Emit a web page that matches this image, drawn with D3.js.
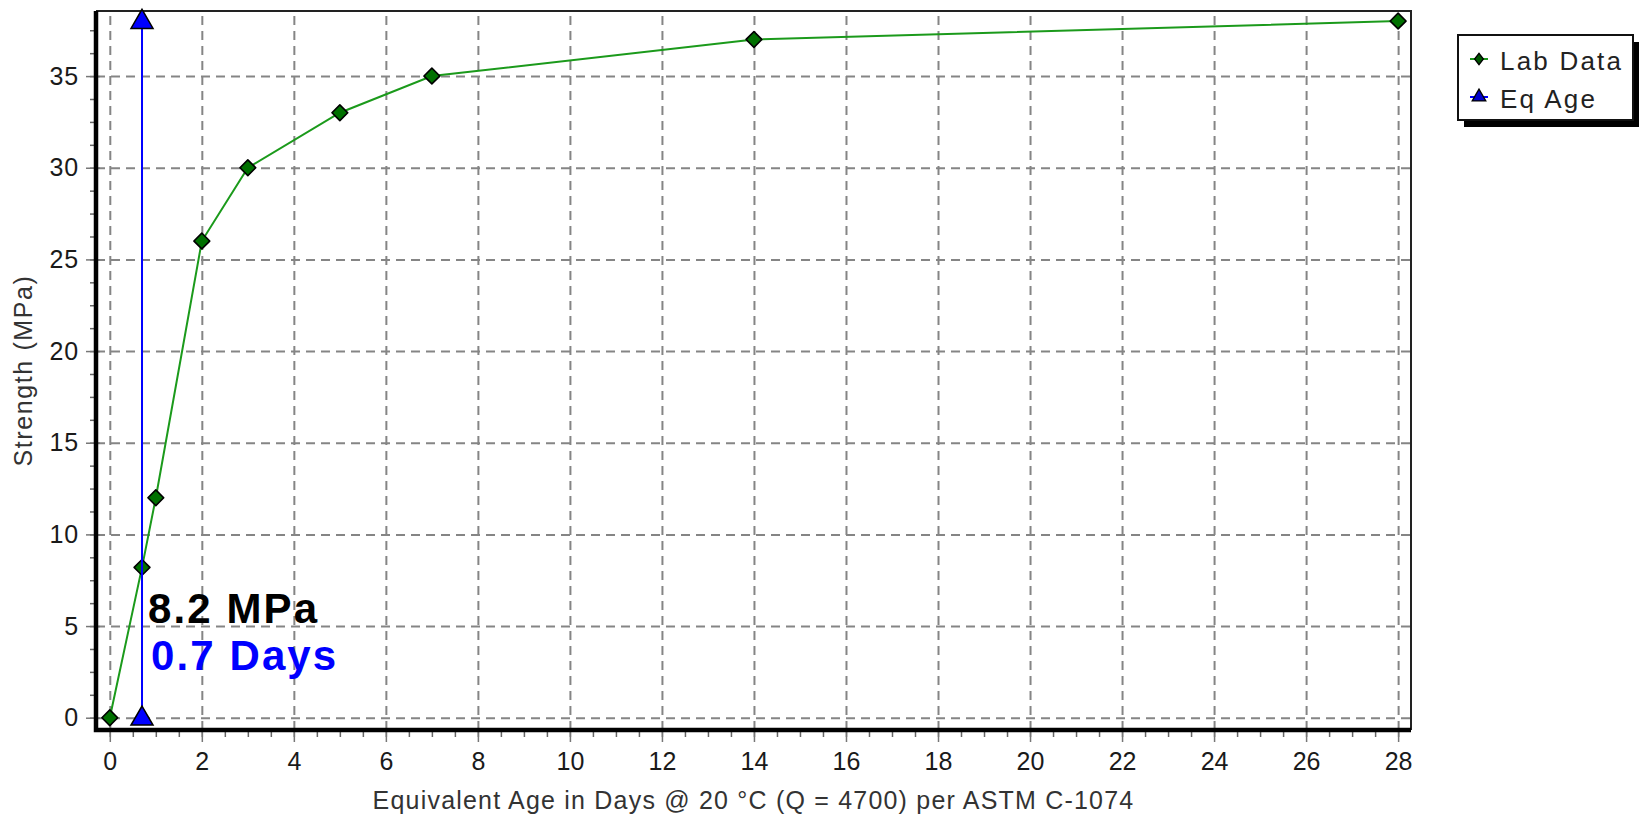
<!DOCTYPE html>
<html>
<head>
<meta charset="utf-8">
<script src="https://cdn.jsdelivr.net/npm/d3@7"></script>
<style>
  body { margin: 0; background: #fff; }
  svg text { font-family: "Liberation Sans", Arial, sans-serif; }
</style>
</head>
<body>
<svg id="chart" width="1639" height="816"></svg>
<script>
// ---- data ----
var labAge = [0, 0.7, 1, 2, 3, 5, 7, 14, 28];
var labStrength = [0, 8.2, 12, 26, 30, 33, 35, 37, 38];
var eqAge = [0.7, 0.7];
var eqStrength = [0, 38];
var xTicks = [0, 2, 4, 6, 8, 10, 12, 14, 16, 18, 20, 22, 24, 26, 28];
var yTicks = [0, 5, 10, 15, 20, 25, 30, 35];
var legendNames = ["Lab Data", "Eq Age"];

var svg = d3.select("#chart");

// plot frame (don't use "top" as a name - window.top is read-only)
var pLeft = 96, pRight = 1411, pTop = 11, pBottom = 730;

var x = d3.scaleLinear().domain([-0.3, 28.28]).range([pLeft, pRight]);
var y = d3.scaleLinear().domain([-0.67, 38.55]).range([pBottom, pTop]);

function styleGrid(g) {
  g.select(".domain").remove();
  g.selectAll("line").attr("stroke", "#858585").attr("stroke-width", 2).attr("stroke-dasharray", "9,6");
}

// grid
svg.append("g")
  .attr("transform", "translate(0," + pBottom + ")")
  .call(d3.axisBottom(x).tickValues(xTicks).tickSize(-(pBottom - pTop)).tickFormat(""))
  .call(styleGrid);
svg.append("g")
  .attr("transform", "translate(" + pLeft + ",0)")
  .call(d3.axisLeft(y).tickValues(yTicks).tickSize(-(pRight - pLeft)).tickFormat(""))
  .call(styleGrid);

// thin top / right border
svg.append("path")
  .attr("d", "M" + pLeft + "," + pTop + "H" + pRight + "V" + pBottom)
  .attr("fill", "none").attr("stroke", "#222").attr("stroke-width", 2);

// minor ticks
var xMinor = d3.range(0, 28.01, 0.5);
var yMinor = d3.range(0, 38.01, 1.25);
svg.append("g")
  .attr("transform", "translate(0," + (pBottom + 2) + ")")
  .call(d3.axisBottom(x).tickValues(xMinor).tickSize(5).tickFormat(""))
  .call(function(g) { g.select(".domain").remove(); g.selectAll("line").attr("stroke", "#666").attr("stroke-width", 1.5); });
svg.append("g")
  .attr("transform", "translate(" + (pLeft - 2) + ",0)")
  .call(d3.axisLeft(y).tickValues(yMinor).tickSize(4).tickFormat(""))
  .call(function(g) { g.select(".domain").remove(); g.selectAll("line").attr("stroke", "#666").attr("stroke-width", 1.5); });

// major axes with labels
var xAxis = svg.append("g")
  .attr("transform", "translate(0," + (pBottom - 2) + ")")
  .call(d3.axisBottom(x).tickValues(xTicks).tickSize(14).tickPadding(10));
xAxis.select(".domain").remove();
xAxis.selectAll("line").attr("stroke", "#777").attr("stroke-width", 1.5);
xAxis.selectAll("text").attr("font-size", 25).attr("fill", "#1a1a1a").attr("font-family", "Liberation Sans, Arial, sans-serif");

var yAxis = svg.append("g")
  .attr("transform", "translate(" + (pLeft + 4) + ",0)")
  .call(d3.axisLeft(y).tickValues(yTicks).tickSize(14).tickPadding(7));
yAxis.select(".domain").remove();
yAxis.selectAll("line").attr("stroke", "#777").attr("stroke-width", 1.5);
yAxis.selectAll("text").attr("font-size", 25).attr("letter-spacing", 0.8).attr("fill", "#1a1a1a").attr("font-family", "Liberation Sans, Arial, sans-serif");

// thick left / bottom frame
svg.append("path")
  .attr("d", "M" + pLeft + "," + pTop + "V" + pBottom + "H" + pRight)
  .attr("fill", "none").attr("stroke", "#000").attr("stroke-width", 4.5);

// axis titles
svg.append("text")
  .attr("x", (pLeft + pRight) / 2).attr("y", 809)
  .attr("text-anchor", "middle").attr("font-size", 25).attr("letter-spacing", 1.2)
  .attr("fill", "#333")
  .text("Equivalent Age in Days @ 20 \u00B0C (Q = 4700) per ASTM C-1074");
svg.append("text")
  .attr("transform", "translate(32," + ((pTop + pBottom) / 2) + ") rotate(-90)")
  .attr("text-anchor", "middle").attr("font-size", 25).attr("letter-spacing", 1.6)
  .attr("fill", "#333")
  .text("Strength (MPa)");

// lab data line + diamonds
var labPts = labAge.map(function(d, i) { return [d, labStrength[i]]; });
var line = d3.line().x(function(d) { return x(d[0]); }).y(function(d) { return y(d[1]); });
svg.append("path")
  .datum(labPts)
  .attr("d", line)
  .attr("fill", "none").attr("stroke", "#1b9a1b").attr("stroke-width", 2);

// diamonds = squares turned 45 degrees
var diamond = d3.symbol().type(d3.symbolSquare).size(125);
svg.selectAll(".lab")
  .data(labPts).enter()
  .append("path")
  .attr("class", "lab")
  .attr("transform", function(d) { return "translate(" + x(d[0]) + "," + y(d[1]) + ") rotate(45)"; })
  .attr("d", diamond)
  .attr("stroke-linejoin", "round")
  .attr("fill", "#007000").attr("stroke", "#000").attr("stroke-width", 1.6);

// eq age line + triangles
var eqPts = eqAge.map(function(d, i) { return [d, eqStrength[i]]; });
svg.append("path")
  .datum(eqPts)
  .attr("d", line)
  .attr("fill", "none").attr("stroke", "#0000ff").attr("stroke-width", 2);
var tri = d3.symbol().type(d3.symbolTriangle).size(210);
svg.selectAll(".eq")
  .data(eqPts).enter()
  .append("path")
  .attr("class", "eq")
  .attr("transform", function(d) { return "translate(" + x(d[0]) + "," + (y(d[1]) + 1) + ")"; })
  .attr("d", tri)
  .attr("fill", "#0000ff").attr("stroke", "#000").attr("stroke-width", 1.5);

// annotation
var ax = x(eqAge[0]) + 6;
svg.append("text")
  .attr("x", ax).attr("y", y(5) - 3)
  .attr("font-size", 42).attr("font-weight", "bold").attr("letter-spacing", 2.1)
  .attr("fill", "#000")
  .text(labStrength[1] + " MPa");
svg.append("text")
  .attr("x", ax + 3).attr("y", y(5) + 44)
  .attr("font-size", 42).attr("font-weight", "bold").attr("letter-spacing", 2.1)
  .attr("fill", "#0000ff")
  .text(eqAge[0] + " Days");

// legend
var lg = svg.append("g").attr("transform", "translate(1458,35)");
lg.append("rect").attr("x", 6).attr("y", 7).attr("width", 175).attr("height", 85).attr("fill", "#000");
lg.append("rect").attr("x", 0).attr("y", 0).attr("width", 175).attr("height", 85)
  .attr("fill", "#fff").attr("stroke", "#111").attr("stroke-width", 2);

var rows = lg.selectAll(".row").data(legendNames).enter()
  .append("g").attr("class", "row")
  .attr("transform", function(d, i) { return "translate(0," + (24 + i * 38) + ")"; });
rows.append("line")
  .attr("x1", 12).attr("x2", 30).attr("y1", 0).attr("y2", 0)
  .attr("stroke", function(d, i) { return i === 0 ? "#1b9a1b" : "#0000ff"; })
  .attr("stroke-width", 2);
rows.append("path")
  .attr("transform", function(d, i) { return i === 0 ? "translate(21,0) scale(0.9,1.15) rotate(45)" : "translate(21,0)"; })
  .attr("d", function(d, i) {
    return i === 0 ? d3.symbol().type(d3.symbolSquare).size(48)() : d3.symbol().type(d3.symbolTriangle).size(80)();
  })
  .attr("fill", function(d, i) { return i === 0 ? "#005500" : "#0000cc"; })
  .attr("stroke", "#000").attr("stroke-width", 1.3);
rows.append("text")
  .attr("x", 42).attr("y", 11)
  .attr("font-size", 26).attr("letter-spacing", 2.2)
  .attr("fill", "#222")
  .text(function(d) { return d; });
</script>
</body>
</html>
